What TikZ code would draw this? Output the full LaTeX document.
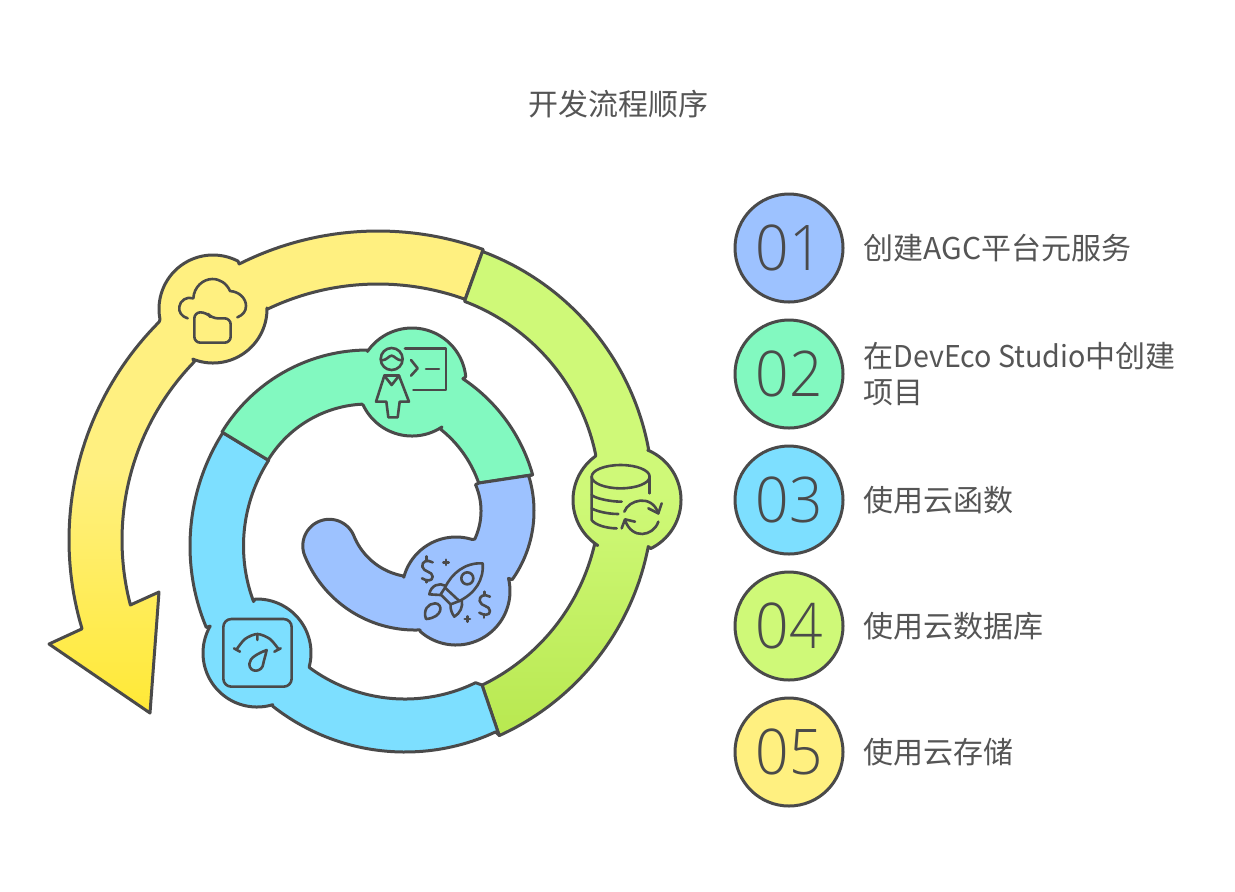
\documentclass[tikz,border=0pt]{standalone}
\usepackage{fontspec}
\setmainfont{Noto Sans CJK SC}
\newfontfamily\numfont[FakeStretch=0.93]{Open Sans Light}
\newfontfamily\latfont[FakeStretch=0.955]{Noto Sans CJK SC}
\usepackage{tikz}
\definecolor{SpiralColor1}{HTML}{9DC2FF}
\definecolor{SpiralColor2}{HTML}{82F9C0}
\definecolor{SpiralColor3}{HTML}{7DDFFF}
\definecolor{SpiralColor4}{HTML}{CFF978}
\definecolor{SpiralColor5}{HTML}{FFF080}
\definecolor{SpiralColor4b}{HTML}{B8E850}
\definecolor{SpiralColor5b}{HTML}{FFE936}
\definecolor{SpiralInk}{HTML}{4A4A4A}
\definecolor{SpiralText}{HTML}{555555}

\begin{document}
\begin{tikzpicture}[x=0.5pt,y=-0.5pt,seg/.style={draw=SpiralInk,line width=1.5pt,line join=round},ico/.style={draw=SpiralInk,line width=1.3pt,line cap=round,line join=round},badge/.style={circle,draw=SpiralInk,line width=1.5pt,minimum size=54pt,inner sep=0pt,text=SpiralInk,font=\numfont\fontsize{31.5}{31.5}\selectfont},lbl/.style={anchor=west,align=left,inner sep=0pt,text=SpiralText,font=\fontsize{15}{18}\selectfont},
ra/.style n args={5}{insert path={-- plot[domain=#4:#5,samples=48] ({#1+#3*cos(\x)},{#2+#3*sin(\x)})}}]
\useasboundingbox (0,0) rectangle (1235,891);
\node[text=SpiralText,font=\fontsize{15}{18}\selectfont](title) at (618,104) {开发流程顺序};
\draw[seg,top color=SpiralColor5,bottom color=SpiralColor5b,middle color=SpiralColor5]
   (483,250) [ra={378}{540}{309}{-70.1}{-116.7}] [ra={213}{309}{54}{-62.4}{-191.1}]
   [ra={378}{540}{309}{-135.1}{-196.7}] -- (49,644) -- (150,713) -- (159,592)
   [ra={378}{540}{256}{-194.7}{-135.8}] [ra={213}{309}{54}{112}{-1}]
   [ra={378}{540}{256}{-115.5}{-70.1}] -- cycle;
\draw[seg,top color=SpiralColor4,bottom color=SpiralColor4b,middle color=SpiralColor4]
   (483,250) [ra={391}{497}{262}{-69.6}{-10.4}] [ra={627}{500}{54}{-67.2}{64}]
   [ra={391}{497}{262}{10.9}{65.6}]
   -- (482,685) [ra={391}{497}{209}{64.2}{13.1}] [ra={627}{500}{54}{122.8}{234.6}]
   [ra={391}{497}{209}{-11.6}{-69.4}] -- cycle;
\draw[seg,fill=SpiralColor3]
   (499,735) [ra={405}{538}{214}{65}{128.2}] [ra={257}{653}{54}{73.2}{209.9}]
   [ra={402}{546}{212}{157.4}{212.3}] -- (268,460)
   [ra={402}{546}{158.5}{212.7}{159.5}] [ra={257}{653}{54}{-92}{14.8}]
   [ra={405}{538}{161}{126.4}{64}] -- (482,685) -- cycle;
\draw[seg,fill=SpiralColor2]
   (222,432) [ra={368}{521}{171}{-148.7}{-90.3}] [ra={412}{382}{54}{-145.4}{-5.5}]
   [ra={368}{521}{171}{-56.3}{-15.7}] -- (479,483)
   [ra={368}{521}{117}{-18.9}{-51.8}] [ra={412}{382}{54}{56.3}{154.4}]
   [ra={368}{521}{117}{-93}{-148.6}] -- (268,460) -- cycle;
\draw[seg,fill=SpiralColor1]
   (532,475) [ra={415}{511}{119}{-17.1}{35.2}] [ra={456}{591}{54}{-13.5}{131.3}]
   [ra={415}{511}{119}{87.6}{157.9}] [ra={329.3}{545.8}{26.5}{157.9}{337.9}]
   [ra={415}{511}{66}{157.9}{100.3}] [ra={456}{591}{54}{-165.2}{-73.2}]
   [ra={415}{511}{66}{25.3}{-23.6}] -- (479,483) -- cycle;
\begin{scope}[shift={(40,230)},scale=1/3]
   \draw[ico] (443,265) .. controls (425,260) and (415,245) .. (418,230) .. controls (420,212) and (440,198) .. (460,205) .. controls (462,170) and (490,147) .. (517,147) .. controls (540,147) and (560,160) .. (570,183) .. controls (598,185) and (618,205) .. (618,228) .. controls (618,245) and (608,255) .. (592,262);
   \draw[ico,rounded corners=3pt] (463,338) -- (463,247) -- (500,247) -- (515,265) -- (572,265) -- (572,338) -- cycle;
\end{scope}
\begin{scope}[shift={(365,335)},scale=1/3]
   \draw[ico] (80,72) circle (33);
   \draw[ico] (50,76) .. controls (65,76) and (72,62) .. (80,62) .. controls (88,62) and (95,76) .. (110,76);
   \draw[ico] (33,200) -- (58,122) -- (80,150) -- (102,122) -- (132,200) -- (104,200) -- (98,247) -- (70,247) -- (64,200) -- cycle;
   \draw[ico] (58,122) -- (102,122);
   \draw[ico] (120,40) -- (243,40) -- (243,165) -- (145,165);
   \draw[ico] (138,75) -- (158,100) -- (138,122);
   \draw[ico] (183,102) -- (222,102);
\end{scope}
\begin{scope}[shift={(290,320)},scale=1/3]
   \draw[ico] (992,470) ellipse (87 and 35);
   \draw[ico] (905,470) -- (905,600) .. controls (915,615) and (950,625) .. (980,625);
   \draw[ico] (1079,470) -- (1079,520);
   \draw[ico] (905,525) .. controls (915,535) and (960,545) .. (995,545);
   \draw[ico] (905,565) .. controls (915,572) and (950,582) .. (985,582);
   \draw[ico] (1003,575) .. controls (1015,540) and (1085,520) .. (1105,580);
   \draw[ico] (1075,565) -- (1105,580) -- (1115,550);
   \draw[ico] (1105,605) .. controls (1090,650) and (1025,660) .. (1005,600);
   \draw[ico] (995,625) -- (1005,598) -- (1035,605);
\end{scope}
\begin{scope}[shift={(410,545)},scale=1/3]
   \draw[ico] (218,55) .. controls (165,52) and (125,85) .. (105,128) -- (148,168) .. controls (195,145) and (222,105) .. cycle;
   \draw[ico] (172,100) circle (18);
   \draw[ico] (105,122) .. controls (90,112) and (62,120) .. (58,148) -- (92,150);
   \draw[ico] (155,165) .. controls (160,185) and (150,205) .. (133,215) .. controls (125,205) and (120,190) .. (122,178);
   \draw[ico] (92,148) -- (122,178) -- (148,168) (92,148) -- (105,128);
   \draw[ico] (48,222) .. controls (38,195) and (55,175) .. (75,175) .. controls (100,175) and (100,218) .. cycle;
   \draw[ico] (68,52) .. controls (50,42) and (35,50) .. (37,65) .. controls (40,82) and (68,78) .. (68,95) .. controls (68,110) and (48,108) .. (36,100);
   \draw[ico] (50,34) -- (50,44) (50,106) -- (50,112);
   \draw[ico] (240,155) .. controls (222,145) and (207,153) .. (209,168) .. controls (212,185) and (240,181) .. (240,198) .. controls (240,213) and (220,211) .. (208,203);
   \draw[ico] (224,140) -- (224,148) (222,210) -- (222,218);
   \draw[ico] (100,52) -- (116,52) (108,44) -- (108,60);
   \draw[ico] (164,222) -- (180,222) (172,214) -- (172,230);
\end{scope}
\begin{scope}[shift={(40,560)},scale=1/3]
   \draw[ico,rounded corners=4pt] (550,177) rectangle (755,380);
   \draw[ico] plot[smooth] coordinates {(590,268) (615,237) (652,222) (690,237) (716,268)};
   \draw[ico] (652,222) -- (652,240) (582,265) -- (600,275) (722,265) -- (703,275);
   \draw[ico] (680,270) .. controls (655,280) and (628,293) .. (628,312) .. controls (628,340) and (668,338) .. (670,310) .. controls (672,300) and (677,285) .. cycle;
\end{scope}
\foreach \i/\y/\t in %
{1/248/{创建AGC平台元服务},2/374/{在{\latfont DevEco Studio}中创建\\项目},3/500/{使用云函数},4/626/{使用云数据库},5/752/{使用云存储}} {
   \node[badge,fill=SpiralColor\i](b\i) at (789,\y) {0\i};
   \node[lbl](l\i) at (863,\y) {\t};
}
\end{tikzpicture}
\end{document}
